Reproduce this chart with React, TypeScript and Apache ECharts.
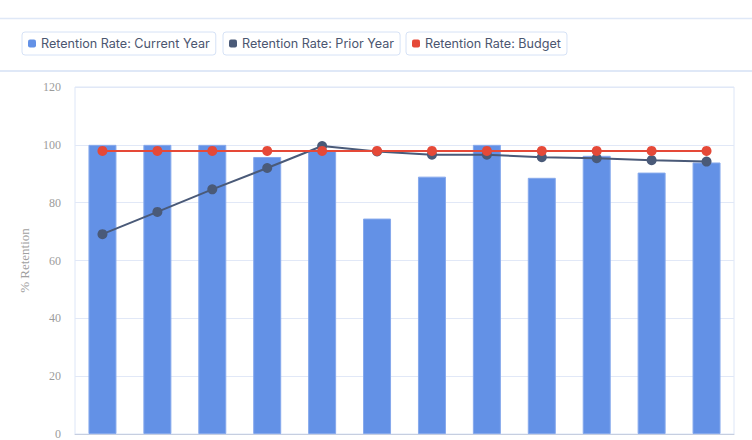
import React, { useEffect, useRef } from 'react';
import * as echarts from 'echarts';

const categories = ['Jan', 'Feb', 'Mar', 'Apr', 'May', 'Jun', 'Jul', 'Aug', 'Sep', 'Oct', 'Nov', 'Dec'];
const currentYear = [100, 100, 100, 95.8, 98.2, 74.5, 89.0, 100, 88.6, 96.2, 90.4, 93.9];
const priorYear = [69.1, 76.8, 84.6, 92.0, 99.6, 97.7, 96.6, 96.6, 95.7, 95.4, 94.7, 94.2];
const budget = [97.9, 97.9, 97.9, 97.9, 97.9, 97.9, 97.9, 97.9, 97.9, 97.9, 97.9, 97.9];
const yTicks = { min: 0, max: 120, interval: 20 };

const seriesNames = ['Retention Rate: Current Year', 'Retention Rate: Prior Year', 'Retention Rate: Budget'];
const legendLeft = [22, 223, 406];

const RetentionChart: React.FC = () => {
  const chartRef = useRef<HTMLDivElement>(null);

  useEffect(() => {
    if (!chartRef.current) return;
    const myChart = echarts.init(chartRef.current, null, { renderer: 'svg' });

    const serif = "'Liberation Serif', 'DejaVu Serif', serif";
    // one legend per series so each item gets its own bordered box
    const legends = seriesNames.map((name, i) => ({
      data: [name],
      left: legendLeft[i],
      top: 32,
      padding: [5, 6],
      itemWidth: 8,
      itemHeight: 8,
      itemGap: 0,
      icon: 'roundRect',
      itemStyle: { borderWidth: 0 },
      borderColor: '#d6e2f6',
      borderWidth: 1,
      borderRadius: 3,
      backgroundColor: '#ffffff',
      selectedMode: false,
      textStyle: { color: '#4b5670', fontSize: 12.6, fontFamily: 'Inter' }
    }));

    const option = {
      animation: false,
      color: ['#6391e6', '#4a5a78', '#e54938'],
      legend: legends,
      graphic: [
        { type: 'line', shape: { x1: 0, y1: 18.5, x2: 752, y2: 18.5 }, style: { stroke: '#dfe8f7', lineWidth: 1.5 } },
        { type: 'line', shape: { x1: 0, y1: 71, x2: 752, y2: 71 }, style: { stroke: '#dfe8f7', lineWidth: 2 } }
      ],
      grid: {
        left: 75,
        right: 18,
        top: 87,
        bottom: 4,
        show: true,
        borderColor: '#dde6f7',
        borderWidth: 1
      },
      xAxis: {
        type: 'category',
        data: categories,
        axisLine: { lineStyle: { color: '#c6cee0', width: 1 } },
        axisTick: { show: false },
        axisLabel: { show: false }
      },
      yAxis: {
        type: 'value',
        min: yTicks.min,
        max: yTicks.max,
        interval: yTicks.interval,
        name: '% Retention',
        nameLocation: 'middle',
        nameGap: 44,
        nameTextStyle: { color: '#a0a0a0', fontSize: 13, fontFamily: serif },
        axisLine: { show: false },
        axisTick: { show: false },
        axisLabel: { color: '#9c9c9c', fontSize: 12, fontFamily: serif, margin: 14 },
        splitLine: { lineStyle: { color: '#e1e8f7', width: 1 } }
      },
      series: [
        {
          name: seriesNames[0],
          type: 'bar',
          data: currentYear,
          barWidth: '51%',
          itemStyle: { borderColor: '#86a9ec', borderWidth: 1 }
        },
        {
          name: seriesNames[1],
          type: 'line',
          data: priorYear,
          symbol: 'circle',
          symbolSize: 10,
          lineStyle: { width: 2 }
        },
        {
          name: seriesNames[2],
          type: 'line',
          data: budget,
          symbol: 'circle',
          symbolSize: 10,
          lineStyle: { width: 2 }
        }
      ]
    };

    myChart.setOption(option);

    return () => {
      myChart.dispose();
    };
  }, []);

  return (
    <div
      ref={chartRef}
      style={{ position: 'absolute', left: 0, top: 0, width: '752px', height: '440px', background: '#fff' }}
    />
  );
};

export default function App() {
  return <RetentionChart />;
}
